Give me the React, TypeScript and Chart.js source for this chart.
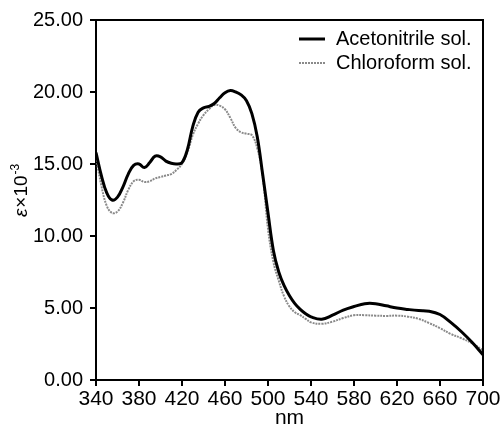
import React, { useEffect, useRef } from "react";
import { Chart, registerables } from "chart.js";

Chart.register(...registerables);

const wavelengths = [
  340, 345, 350, 355, 360, 365, 370, 375, 380, 385, 390, 395, 400, 405, 410, 415, 420, 425, 430, 435,
  440, 445, 450, 455, 460, 465, 470, 475, 480, 485, 490, 495, 500, 505, 510, 515, 520, 525, 530, 535,
  540, 550, 560, 570, 580, 590, 600, 610, 620, 630, 640, 650, 660, 670, 680, 690, 700,
];

const acetonitrile = [
  15.8, 14.2, 13.0, 12.5, 12.7, 13.4, 14.3, 14.9, 15.0, 14.75, 15.1, 15.55, 15.5, 15.2, 15.05, 15.0, 15.1, 16.0, 17.6, 18.6,
  18.9, 19.0, 19.2, 19.6, 19.95, 20.1, 20.0, 19.8, 19.4, 18.5, 16.9, 14.3, 11.6, 9.0, 7.5, 6.55, 5.85, 5.3, 4.9, 4.6,
  4.38, 4.22, 4.5, 4.85, 5.1, 5.3, 5.3, 5.15, 5.0, 4.9, 4.82, 4.78, 4.55, 4.0, 3.35, 2.6, 1.75,
];

const chloroform = [
  15.5, 13.5, 12.1, 11.6, 11.7, 12.3, 13.2, 13.8, 13.9, 13.75, 13.8, 14.0, 14.1, 14.2, 14.3, 14.6, 15.0, 15.8, 17.0, 17.8,
  18.4, 18.8, 19.1, 19.05, 18.8, 18.2, 17.5, 17.2, 17.1, 17.0, 16.1, 14.2, 10.5, 8.2, 6.9, 5.8, 5.1, 4.7, 4.5, 4.25,
  4.0, 3.9, 4.05, 4.3, 4.5, 4.5, 4.47, 4.45, 4.47, 4.4, 4.25, 3.95, 3.6, 3.2, 2.9, 2.55, 2.05,
];

const seriesLabels = ["Acetonitrile sol.", "Chloroform sol."];
const xTitle = "nm";
const yTitleSymbol = "\u03b5";
const yTitleMain = "\u00d710";
const yTitleSup = "-3";

const FONT = '"Liberation Sans", Arial, Helvetica, sans-serif';

const overlayPlugin = {
  id: "overlay",
  afterDraw(chart: any) {
    const { ctx, chartArea } = chart;
    const { left, right, top, bottom } = chartArea;
    ctx.save();
    // frame top/right
    ctx.strokeStyle = "#000";
    ctx.lineWidth = 2;
    ctx.beginPath();
    ctx.moveTo(left, top);
    ctx.lineTo(right, top);
    ctx.lineTo(right, bottom);
    ctx.stroke();

    // legend
    const legendY = [39, 63];
    chart.data.datasets.forEach((ds: any, i: number) => {
      const y = legendY[i];
      ctx.save();
      ctx.strokeStyle = ds.borderColor;
      ctx.lineWidth = ds.borderWidth;
      ctx.setLineDash(ds.borderDash || []);
      ctx.beginPath();
      ctx.moveTo(299, y);
      ctx.lineTo(325, y);
      ctx.stroke();
      ctx.restore();
      ctx.fillStyle = "#000";
      ctx.font = `20px ${FONT}`;
      ctx.textBaseline = "middle";
      ctx.textAlign = "left";
      ctx.fillText(ds.label, 336, y);
    });

    // x title
    ctx.fillStyle = "#000";
    ctx.font = `21px ${FONT}`;
    ctx.textAlign = "center";
    ctx.textBaseline = "alphabetic";
    ctx.fillText(xTitle, (left + right) / 2, 424);

    // y title
    ctx.save();
    ctx.translate(27, 217);
    ctx.rotate(-Math.PI / 2);
    ctx.textAlign = "left";
    ctx.textBaseline = "alphabetic";
    ctx.font = `italic 19px ${FONT}`;
    ctx.fillText(yTitleSymbol, 0, 0);
    let w = ctx.measureText(yTitleSymbol).width;
    ctx.font = `19px ${FONT}`;
    ctx.fillText(yTitleMain, w + 1, 0);
    w += 1 + ctx.measureText(yTitleMain).width;
    ctx.font = `12px ${FONT}`;
    ctx.fillText(yTitleSup, w + 1, -8);
    ctx.restore();

    ctx.restore();
  },
};

export default function App() {
  const canvasRef = useRef<HTMLCanvasElement | null>(null);

  useEffect(() => {
    document.body.style.margin = "0";
    const canvas = canvasRef.current;
    if (!canvas) return;
    const chart = new Chart(canvas, {
      type: "line",
      data: {
        datasets: [
          {
            label: seriesLabels[0],
            data: wavelengths.map((x, i) => ({ x, y: acetonitrile[i] })),
            borderColor: "#000000",
            borderWidth: 3,
            pointRadius: 0,
            tension: 0.4,
            fill: false,
          },
          {
            label: seriesLabels[1],
            data: wavelengths.map((x, i) => ({ x, y: chloroform[i] })),
            borderColor: "#8a8a8a",
            borderWidth: 2,
            borderDash: [2, 1],
            pointRadius: 0,
            tension: 0.4,
            fill: false,
          },
        ],
      },
      options: {
        animation: false,
        responsive: false,
        devicePixelRatio: 1,
        layout: { padding: { top: 20, right: 19, left: 0, bottom: 0 } },
        plugins: {
          legend: { display: false },
          tooltip: { enabled: false },
          title: { display: false },
        },
        scales: {
          x: {
            type: "linear",
            min: 340,
            max: 700,
            afterFit: (scale: any) => {
              scale.height = 46;
            },
            ticks: {
              stepSize: 40,
              color: "#000",
              font: { family: FONT, size: 21 },
              padding: 1,
              maxRotation: 0,
              autoSkip: false,
            },
            grid: {
              display: true,
              drawOnChartArea: false,
              drawTicks: true,
              tickLength: 6,
              color: "#000",
              lineWidth: 2,
            },
            border: { display: true, color: "#000", width: 2 },
          },
          y: {
            type: "linear",
            min: 0,
            max: 25,
            afterFit: (scale: any) => {
              scale.width = 96;
            },
            ticks: {
              stepSize: 5,
              color: "#000",
              font: { family: FONT, size: 20 },
              padding: 7,
              callback: (v: any) => Number(v).toFixed(2),
            },
            grid: {
              display: true,
              drawOnChartArea: false,
              drawTicks: true,
              tickLength: 6,
              color: "#000",
              lineWidth: 2,
            },
            border: { display: true, color: "#000", width: 2 },
          },
        },
      },
      plugins: [overlayPlugin],
    });
    return () => chart.destroy();
  }, []);

  return (
    <div style={{ width: 502, height: 426, background: "#fff" }}>
      <canvas ref={canvasRef} width={502} height={426} style={{ display: "block" }} />
    </div>
  );
}
